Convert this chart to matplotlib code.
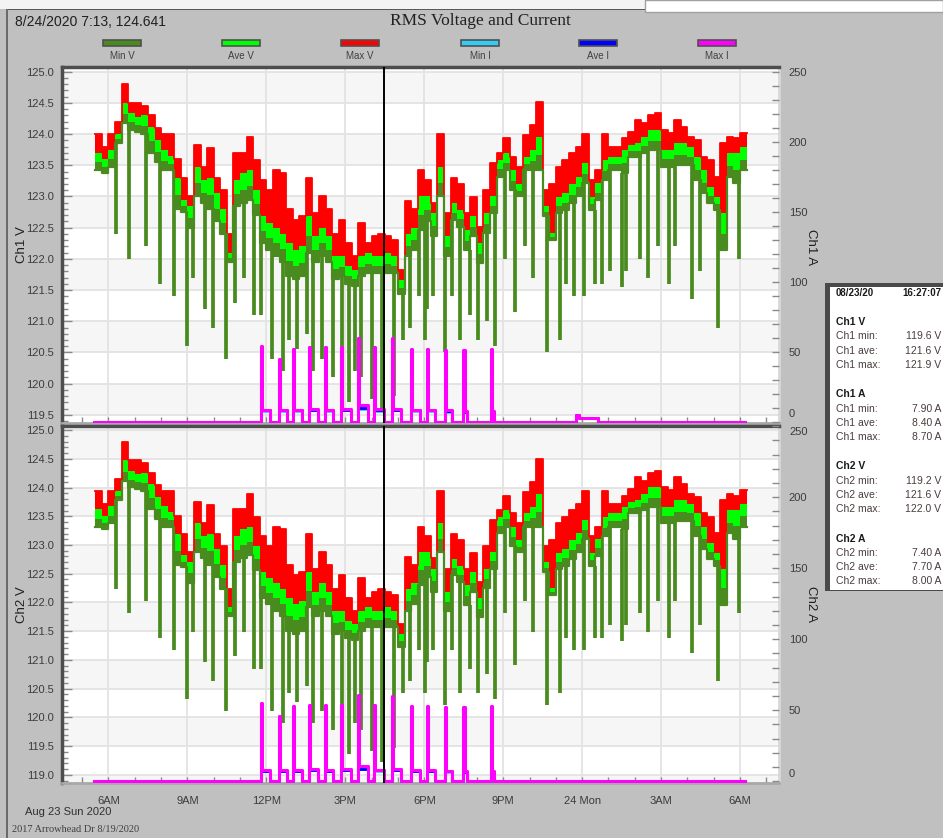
import numpy as np
import matplotlib.pyplot as plt
from matplotlib.patches import Rectangle
from matplotlib.ticker import MultipleLocator, FixedLocator

plt.rcParams['font.family'] = ['Liberation Sans', 'DejaVu Sans']

# ---- data (hours since midnight Aug 23, 15 min samples from 5:30) ----
t_start = 5.5
t_step = 0.25

ch1_max_v = [
    124.0, 123.8, 124.0, 124.2, 124.8, 124.5, 124.5, 124.45, 124.3, 124.1,
    124.0, 124.0, 123.6, 123.3, 123.0, 123.82, 123.48, 123.77, 123.3, 123.1,
    122.4, 123.7, 123.7, 123.96, 123.58, 123.26, 123.1, 123.42, 123.37, 122.8,
    122.62, 122.68, 123.3, 122.73, 123.0, 122.8, 122.4, 122.62, 122.25, 122.05,
    122.57, 122.25, 122.36, 122.4, 122.36, 122.3, 121.82, 122.92, 122.8, 123.42,
    123.26, 122.9, 124.0, 122.73, 123.3, 123.2, 122.73, 122.99, 122.51, 123.1,
    123.53, 123.69, 123.93, 123.64, 123.48, 123.99, 124.15, 124.52, 123.1, 123.2,
    123.48, 123.58, 123.69, 123.8, 124.0, 123.26, 123.42, 124.0, 123.8, 123.8,
    123.93, 124.04, 124.23, 124.17, 124.3, 124.33, 124.07, 124.01, 124.23, 124.12,
    123.96, 123.9, 123.64, 123.58, 123.32, 123.85, 123.96, 123.93, 124.01]
ch1_ave_v = [
    123.7, 123.6, 123.75, 124.0, 124.5, 124.33, 124.28, 124.3, 124.12, 123.9,
    123.75, 123.65, 123.3, 122.95, 122.85, 123.48, 123.26, 123.3, 123.05, 122.8,
    122.1, 123.26, 123.37, 123.42, 123.1, 122.68, 122.57, 122.5, 122.4, 122.25,
    122.15, 122.2, 122.68, 122.36, 122.5, 122.36, 122.04, 122.04, 121.88, 121.82,
    122.04, 122.1, 122.04, 122.04, 122.1, 122.04, 121.66, 122.4, 122.5, 123.0,
    123.0, 122.73, 123.48, 122.36, 122.89, 122.78, 122.46, 122.68, 122.25, 122.73,
    123.0, 123.58, 123.69, 123.42, 123.2, 123.64, 123.74, 123.96, 122.84, 122.41,
    122.99, 123.05, 123.2, 123.32, 123.53, 122.99, 123.21, 123.58, 123.64, 123.64,
    123.74, 123.82, 123.85, 123.96, 124.07, 124.07, 123.74, 123.74, 123.85, 123.85,
    123.8, 123.64, 123.42, 123.15, 122.99, 122.73, 123.69, 123.69, 123.8]
ch1_min_v = [
    123.42, 123.37, 123.48, 123.85, 124.17, 124.07, 124.04, 124.0, 123.7, 123.55,
    123.42, 123.42, 122.8, 122.75, 122.5, 123.0, 122.9, 122.8, 122.6, 122.4,
    121.95, 122.85, 122.9, 122.95, 122.7, 122.25, 122.15, 122.05, 121.95, 121.72,
    121.67, 121.72, 122.1, 121.95, 122.05, 121.95, 121.67, 121.72, 121.6, 121.56,
    121.72, 121.77, 121.77, 121.77, 121.77, 121.77, 121.44, 122.04, 122.15, 122.46,
    122.6, 122.36, 123.0, 122.04, 122.62, 122.51, 122.14, 122.36, 121.93, 122.41,
    122.73, 123.32, 123.42, 123.1, 123.0, 123.42, 123.42, 123.42, 122.68, 122.3,
    122.73, 122.78, 122.89, 123.0, 123.21, 122.78, 122.94, 123.26, 123.42, 123.42,
    123.37, 123.64, 123.64, 123.69, 123.74, 123.74, 123.48, 123.48, 123.5, 123.5,
    123.5, 123.26, 123.05, 122.89, 122.78, 122.14, 123.32, 123.21, 123.42]

ch2_max_v = [
    123.94, 123.72, 123.94, 124.15, 124.79, 124.47, 124.47, 124.42, 124.26, 124.04,
    123.94, 123.94, 123.51, 123.19, 122.87, 123.75, 123.38, 123.69, 123.19, 122.98,
    122.24, 123.62, 123.62, 123.89, 123.49, 123.15, 122.98, 123.32, 123.27, 122.66,
    122.47, 122.53, 123.19, 122.59, 122.87, 122.66, 122.24, 122.47, 122.08, 121.86,
    122.42, 122.08, 122.19, 122.24, 122.19, 122.13, 121.62, 122.79, 122.66, 123.32,
    123.15, 122.77, 123.94, 122.59, 123.19, 123.09, 122.59, 122.86, 122.35, 122.98,
    123.44, 123.61, 123.86, 123.55, 123.38, 123.93, 124.1, 124.49, 122.98, 123.09,
    123.38, 123.49, 123.61, 123.72, 123.94, 123.15, 123.32, 123.94, 123.72, 123.72,
    123.86, 123.98, 124.18, 124.12, 124.26, 124.29, 124.01, 123.95, 124.18, 124.06,
    123.89, 123.83, 123.55, 123.49, 123.21, 123.78, 123.89, 123.86, 123.95]
ch2_ave_v = [
    123.62, 123.51, 123.67, 123.94, 124.47, 124.29, 124.24, 124.26, 124.06, 123.83,
    123.67, 123.57, 123.19, 122.82, 122.71, 123.38, 123.15, 123.19, 122.93, 122.66,
    121.92, 123.15, 123.27, 123.32, 122.98, 122.53, 122.42, 122.34, 122.24, 122.08,
    121.97, 122.02, 122.53, 122.19, 122.34, 122.19, 121.85, 121.85, 121.68, 121.62,
    121.85, 121.92, 121.85, 121.85, 121.92, 121.85, 121.45, 122.24, 122.34, 122.87,
    122.87, 122.59, 123.38, 122.19, 122.76, 122.64, 122.3, 122.53, 122.08, 122.59,
    122.87, 123.49, 123.61, 123.32, 123.09, 123.55, 123.66, 123.89, 122.7, 122.25,
    122.86, 122.93, 123.09, 123.21, 123.44, 122.86, 123.1, 123.49, 123.55, 123.55,
    123.66, 123.75, 123.78, 123.89, 124.01, 124.01, 123.66, 123.66, 123.78, 123.78,
    123.72, 123.55, 123.32, 123.03, 122.86, 122.59, 123.61, 123.61, 123.72]
ch2_min_v = [
    123.32, 123.27, 123.38, 123.78, 124.12, 124.01, 123.98, 123.94, 123.62, 123.46,
    123.32, 123.32, 122.66, 122.61, 122.34, 122.87, 122.77, 122.66, 122.45, 122.24,
    121.76, 122.71, 122.77, 122.82, 122.56, 122.08, 121.97, 121.86, 121.76, 121.51,
    121.46, 121.51, 121.92, 121.76, 121.86, 121.76, 121.46, 121.51, 121.39, 121.34,
    121.51, 121.57, 121.57, 121.57, 121.57, 121.57, 121.22, 121.85, 121.97, 122.3,
    122.45, 122.19, 122.87, 121.85, 122.47, 122.35, 121.96, 122.19, 121.74, 122.25,
    122.59, 123.21, 123.32, 122.98, 122.87, 123.32, 123.32, 123.32, 122.53, 122.13,
    122.59, 122.64, 122.76, 122.87, 123.1, 122.64, 122.81, 123.15, 123.32, 123.32,
    123.27, 123.55, 123.55, 123.61, 123.66, 123.66, 123.38, 123.38, 123.41, 123.41,
    123.41, 123.15, 122.93, 122.76, 122.64, 121.96, 123.21, 123.1, 123.32]

# short sags in Min V
dip_hours = [
    6.29, 6.77, 7.44, 7.94, 8.49, 8.97, 9.21, 9.66, 9.98, 10.48,
    10.80, 11.14, 11.53, 11.80, 12.20, 12.65, 12.86, 13.15, 13.53, 13.79,
    14.10, 14.55, 14.89, 15.15, 15.37, 15.60, 16.00, 16.38, 16.86, 17.21,
    17.46, 17.81, 18.03, 18.12, 18.35, 18.79, 19.04, 19.36, 19.74, 20.06,
    20.37, 20.69, 21.07, 21.45, 21.83, 22.12, 22.65, 23.14, 23.38, 23.69,
    24.08, 24.47, 24.77, 25.06, 25.50, 25.66, 26.20, 26.52, 26.90, 27.30,
    27.53, 28.19, 28.48, 29.18, 29.96]
ch1_dip_v = [
    122.4, 122.0, 122.2, 121.6, 121.4, 120.6, 121.7, 121.2, 120.9, 120.4,
    121.3, 121.7, 121.1, 121.1, 120.4, 120.2, 120.7, 120.55, 120.8, 120.2,
    120.4, 120.1, 120.35, 119.7, 120.2, 120.1, 119.75, 119.6, 119.8, 120.7,
    120.9, 121.4, 120.7, 121.2, 121.4, 120.5, 121.4, 120.7, 121.1, 120.7,
    121.0, 120.6, 122.0, 121.15, 122.2, 121.7, 120.5, 120.7, 121.6, 121.4,
    121.4, 121.6, 121.6, 121.8, 121.55, 121.8, 122.0, 121.7, 122.2, 121.6,
    122.2, 121.35, 121.8, 120.9, 122.0]
ch2_dip_v = [
    122.24, 121.81, 122.02, 121.39, 121.17, 120.32, 121.49, 120.96, 120.64, 120.11,
    121.07, 121.49, 120.85, 120.85, 120.11, 119.9, 120.43, 120.27, 120.54, 119.9,
    120.11, 119.79, 120.06, 119.37, 119.9, 119.79, 119.42, 119.22, 119.47, 120.43,
    120.64, 121.17, 120.43, 120.96, 121.17, 120.22, 121.17, 120.43, 120.85, 120.43,
    120.75, 120.32, 121.81, 120.91, 122.02, 121.49, 120.22, 120.43, 121.39, 121.17,
    121.17, 121.39, 121.39, 121.6, 121.33, 121.6, 121.81, 121.49, 122.02, 121.39,
    122.02, 121.12, 121.6, 120.64, 121.81]

# current: inrush spikes followed by a short running plateau
spike_hours = [11.80, 12.49, 13.02, 13.63, 14.23, 14.84, 15.47, 16.10, 16.76, 17.49, 18.12, 18.79, 19.49, 20.53]
plateau_end = [12.15, 12.80, 13.35, 13.95, 14.55, 15.20, 15.85, 16.47, 17.10, 17.85, 18.40, 19.05, 19.62, 20.65]
ch1_spike_a = [54, 45, 52, 53, 53, 53, 60, 53, 59.5, 52, 52, 51, 51, 52]
ch1_plateau_max = [8.5, 8.5, 8.5, 9.0, 8.5, 9.0, 12.0, 8.7, 9.0, 8.5, 8.5, 8.0, 7.5, 7.5]
ch1_plateau_ave = [8.2, 8.2, 8.2, 8.6, 8.2, 8.6, 9.5, 8.4, 8.6, 8.2, 8.2, 7.7, 7.2, 7.2]
ch1_plateau_min = [7.6, 7.6, 7.6, 8.0, 7.6, 8.0, 8.8, 7.9, 8.0, 7.6, 7.6, 7.2, 6.7, 6.7]
ch1_bump_hours = [23.78, 23.88, 24.60]
ch1_bump_a = [5.0, 2.5, 0.0]
ch2_spike_a = [55, 46, 53, 54, 54, 54, 61, 54, 60, 53, 53, 52, 52, 53]
ch2_plateau_max = [7.8, 7.8, 7.8, 8.3, 7.8, 8.3, 11.0, 8.0, 8.3, 7.8, 7.8, 7.4, 6.9, 6.9]
ch2_plateau_ave = [7.5, 7.5, 7.5, 8.0, 7.5, 8.0, 8.9, 7.7, 8.0, 7.5, 7.5, 7.1, 6.6, 6.6]
ch2_plateau_min = [7.2, 7.2, 7.2, 7.6, 7.2, 7.6, 8.3, 7.4, 7.6, 7.2, 7.2, 6.8, 6.3, 6.3]

tick_hours = [6, 9, 12, 15, 18, 21, 24, 27, 30]
tick_labels = ["6AM", "9AM", "12PM", "3PM", "6PM", "9PM", "24 Mon", "3AM", "6AM"]
cursor_hour = 16 + 27 / 60 + 7 / 3600

legend_names = ["Min V", "Ave V", "Max V", "Min I", "Ave I", "Max I"]
C_MINV, C_AVEV, C_MAXV = '#4a8b1f', '#00ff00', '#ff0000'
C_MINI, C_AVEI, C_MAXI = '#33ccf5', '#0000ff', '#ff00ff'
legend_colors = [C_MINV, C_AVEV, C_MAXV, C_MINI, C_AVEI, C_MAXI]

info_rows = [
    ("Ch1 V", None, True),
    ("Ch1 min:", "119.6 V", False), ("Ch1 ave:", "121.6 V", False), ("Ch1 max:", "121.9 V", False),
    ("Ch1 A", None, True),
    ("Ch1 min:", "7.90 A", False), ("Ch1 ave:", "8.40 A", False), ("Ch1 max:", "8.70 A", False),
    ("Ch2 V", None, True),
    ("Ch2 min:", "119.2 V", False), ("Ch2 ave:", "121.6 V", False), ("Ch2 max:", "122.0 V", False),
    ("Ch2 A", None, True),
    ("Ch2 min:", "7.40 A", False), ("Ch2 ave:", "7.70 A", False), ("Ch2 max:", "8.00 A", False),
]

# ---- layout helpers (pixel coords, origin top-left) ----
W, H = 943, 838
X_LO, X_HI = 4.233, 31.48


def fx(x):
    return x / W


def fy(y):
    return 1 - y / H


fig = plt.figure(figsize=(W / 100, H / 100), dpi=100, facecolor='#c0c0c0')


def box(x, y, w, h, **kw):
    fig.add_artist(Rectangle((fx(x), fy(y + h)), w / W, h / H,
                             transform=fig.transFigure, **kw))


# window chrome
box(0, 0, 943, 9, facecolor='#f4f4f4', edgecolor='none')
box(645, 0, 298, 12, facecolor='white', edgecolor='#a0a0a0', lw=1)
box(8, 9, 637, 1.5, facecolor='#5a5a5a', edgecolor='none')
box(6, 9, 2, 829, facecolor='#6a6a6a', edgecolor='none')

fig.text(fx(15), fy(22), "8/24/2020 7:13, 124.641", fontsize=10, color='#202020', va='center')
fig.text(fx(480), fy(21), "RMS Voltage and Current", fontsize=12.5, color='#202020',
         ha='center', va='center', family='Liberation Serif')

legend_x = [122, 241, 360, 480, 598, 717]
for x, name, c in zip(legend_x, legend_names, legend_colors):
    box(x - 19, 40, 38, 6, facecolor=c, edgecolor='#505050', lw=1.2)
    fig.text(fx(x), fy(56), name, fontsize=7, color='#404040', ha='center', va='center')


def draw_voltage(ax, max_v, ave_v, min_v, dip_v):
    n = len(max_v)
    t = t_start + t_step * np.arange(n + 1)
    mx = np.append(max_v, max_v[-1])
    av = np.append(ave_v, ave_v[-1])
    mn = np.append(min_v, min_v[-1])
    mid = av - 0.55 * (av - mn)
    idx = ((np.array(dip_hours) - t_start) / t_step).astype(int)
    ax.vlines(dip_hours, dip_v, np.array(min_v)[idx], colors=C_MINV, lw=2.7, zorder=2)
    ax.fill_between(t, mn, mid, step='post', color=C_MINV, lw=0, zorder=3)
    ax.fill_between(t, mid, av, step='post', color=C_AVEV, lw=0, zorder=3)
    ax.fill_between(t, av, mx, step='post', color=C_MAXV, lw=0, zorder=3)
    ax.step(t, mx, where='post', color=C_MAXV, lw=1.3, zorder=3)
    ax.step(t, mn, where='post', color=C_MINV, lw=1.6, zorder=3)


def current_series(spike_a, plateau, extra_t=(), extra_v=()):
    t, v = [5.45], [0.0]
    for s, a, p, e in zip(spike_hours, spike_a, plateau, plateau_end):
        t += [s, s + 0.04, e]
        v += [a, p, 0.0]
    t += list(extra_t)
    v += list(extra_v)
    t.append(30.2)
    v.append(0.0)
    return t, v


def style_panel(ax, vlim, vticks, alim, show_x, hidden_amp):
    ax.set_xlim(X_LO, X_HI)
    ax.set_ylim(*vlim)
    ax.set_facecolor('white')
    for lo in np.arange(np.floor(vlim[0]) + 0.5, vlim[1], 1.0):
        ax.axhspan(lo, lo + 0.5, color='#f6f6f6', lw=0, zorder=0)
    ax.yaxis.set_major_locator(FixedLocator(vticks))
    ax.yaxis.set_minor_locator(MultipleLocator(0.1))
    ax.yaxis.set_major_formatter(lambda v, p: f"{v:.1f}")
    ax.xaxis.set_major_locator(FixedLocator(tick_hours))
    ax.xaxis.set_minor_locator(MultipleLocator(1))
    ax.set_xticklabels(tick_labels)
    ax.set_axisbelow(True)
    ax.grid(which='major', color='#e3e3e3', lw=1.3)
    ax.tick_params(axis='y', which='major', direction='in', length=7, width=1,
                   color='#8a8a8a', labelsize=8, labelcolor='#3c3c3c', pad=6)
    ax.tick_params(axis='y', which='minor', direction='in', length=4, width=1, color='#8a8a8a')
    ax.tick_params(axis='x', which='both', direction='in', length=4, width=1, color='#8a8a8a',
                   labelsize=8, labelcolor='#3c3c3c', pad=9, labelbottom=show_x)
    ax.spines['left'].set_color('#4d4d4d')
    ax.spines['left'].set_linewidth(2.5)
    ax.spines['top'].set_color('#4d4d4d')
    ax.spines['top'].set_linewidth(2.5)
    ax.spines['bottom'].set_color('#a8a8a8')
    ax.spines['bottom'].set_linewidth(2)
    ax.spines['right'].set_color('#d8d8d8')
    ax.spines['right'].set_linewidth(2)

    axr = ax.twinx()
    axr.set_xlim(X_LO, X_HI)
    axr.set_ylim(*alim)
    axr.yaxis.set_major_locator(MultipleLocator(50))
    axr.yaxis.set_minor_locator(MultipleLocator(10))
    # end labels that sit on the panel edge are placed by hand below
    axr.yaxis.set_major_formatter(lambda v, p: "" if round(v) in hidden_amp else f"{v:.0f}")
    axr.tick_params(axis='y', which='both', direction='in', length=5, width=1, color='#8a8a8a',
                    labelsize=8, labelcolor='#3c3c3c', pad=7)
    for s in axr.spines.values():
        s.set_visible(False)
    return axr


ax_top = fig.add_axes([fx(62), fy(423), 717 / W, 356 / H])
ax_bot = fig.add_axes([fx(62), fy(783), 717 / W, 357 / H])

ar_top = style_panel(ax_top, (119.37, 125.075), np.arange(119.5, 125.01, 0.5), (-1.0, 253.3), False, (0,))
ar_bot = style_panel(ax_bot, (118.86, 125.07), np.arange(119.0, 125.01, 0.5), (-1.3, 250.2), True, (0, 250))

draw_voltage(ax_top, ch1_max_v, ch1_ave_v, ch1_min_v, ch1_dip_v)
draw_voltage(ax_bot, ch2_max_v, ch2_ave_v, ch2_min_v, ch2_dip_v)

panels = [
    (ar_top, ch1_spike_a, ch1_plateau_max, ch1_plateau_ave, ch1_plateau_min, ch1_bump_hours, ch1_bump_a),
    (ar_bot, ch2_spike_a, ch2_plateau_max, ch2_plateau_ave, ch2_plateau_min, [], []),
]
for axr, spk, pmax, pave, pmin, bt, ba in panels:
    t, v = current_series(pmin, pmin, bt, ba)
    axr.step(t, v, where='post', color=C_MINI, lw=2, zorder=4)
    t, v = current_series(pave, pave, bt, ba)
    axr.step(t, v, where='post', color=C_AVEI, lw=2, zorder=4)
    t, v = current_series(spk, pmax, bt, ba)
    axr.step(t, v, where='post', color=C_MAXI, lw=2.2, zorder=5)
    axr.axvline(cursor_hour, color='black', lw=1.4, zorder=6)

lab = dict(fontsize=8, color='#3c3c3c', va='center', ha='left')
fig.text(fx(789), fy(414), "0", **lab)
fig.text(fx(789), fy(432), "250", **lab)
fig.text(fx(789), fy(774), "0", **lab)

fig.text(fx(22), fy(245), "Ch1 V", rotation=90, fontsize=9.5, color='#202020', ha='center', va='center')
fig.text(fx(22), fy(605), "Ch2 V", rotation=90, fontsize=9.5, color='#202020', ha='center', va='center')
fig.text(fx(811), fy(247), "Ch1 A", rotation=270, fontsize=9.5, color='#202020', ha='center', va='center')
fig.text(fx(811), fy(604), "Ch2 A", rotation=270, fontsize=9.5, color='#202020', ha='center', va='center')

fig.text(fx(25), fy(812), "Aug 23 Sun 2020", fontsize=8, color='#303030', va='center')
fig.text(fx(12), fy(829), "2017 Arrowhead Dr 8/19/2020", fontsize=7.5, color='#404040',
         va='center', family='Liberation Serif')

# cursor readout box
box(825, 283, 125, 308, facecolor='#4a4a4a', edgecolor='none')
box(830, 287, 120, 303, facecolor='white', edgecolor='none')
fig.text(fx(836), fy(293), "08/23/20", fontsize=7, weight='bold', color='#1a1a1a', va='center')
fig.text(fx(941), fy(293), "16:27:07", fontsize=7, weight='bold', color='#1a1a1a', va='center', ha='right')
y = 322
for name, val, head in info_rows:
    if head:
        if name != "Ch1 V":
            y += 15
        fig.text(fx(836), fy(y), name, fontsize=7.5, weight='bold', color='#1a1a1a', va='center')
    else:
        fig.text(fx(836), fy(y), name, fontsize=7.5, color='#4a3c3c', va='center')
        fig.text(fx(941), fy(y), val, fontsize=7.5, color='#4a3c3c', va='center', ha='right')
    y += 14.3

fig.savefig('out.png', dpi=100, facecolor=fig.get_facecolor())
